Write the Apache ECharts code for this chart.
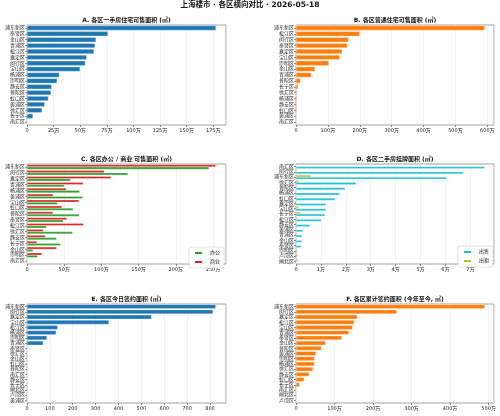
<!DOCTYPE html>
<html><head><meta charset="utf-8">
<script src="https://cdn.jsdelivr.net/npm/echarts@6/dist/echarts.min.js"></script>
<style>html,body{margin:0;padding:0;background:#fff}#c{width:500px;height:416px}</style>
</head><body><div id="c"></div>
<script>
// ---- data ----
const mainTitle = '上海楼市 · 各区横向对比 · 2026-05-18';
const titleA = 'A. 各区一手房住宅可售面积 (㎡)';
const catsA = ['浦东新区','奉贤区','金山区','青浦区','松江区','嘉定区','闵行区','宝山区','杨浦区','崇明区','静安区','普陀区','虹口区','黄浦区','徐汇区','长宁区','南汇区'];
const valsA = [177.5,76,64.8,63.9,62.9,56,54.8,49.8,30.4,28.2,23.2,22.5,20,16.6,14.1,5.6,0]; // 万㎡

const titleB = 'B. 各区普通住宅可售面积 (㎡)';
const catsB = ['浦东新区','松江区','闵行区','奉贤区','嘉定区','宝山区','崇明区','金山区','青浦区','普陀区','长宁区','徐汇区','杨浦区','静安区','虹口区','黄浦区','南汇区'];
const valsB = [591.7,200,164.6,160.4,144.8,137.5,103,59.4,48,13.5,6.3,3.1,3,2.5,2.5,0.5,0]; // 万㎡

const titleC = 'C. 各区办公 / 商业 可售面积 (㎡)';
const catsC = ['浦东新区','闵行区','嘉定区','青浦区','杨浦区','黄浦区','宝山区','虹口区','普陀区','奉贤区','松江区','徐汇区','静安区','长宁区','金山区','崇明区','南汇区'];
const officeC = [244.6,135.5,58.6,50,70.7,75,41,62,70.2,48.7,26,61.3,39.8,45.2,8,14.3,0]; // 万㎡
const shopC = [253.6,103.8,113,75.6,52.8,35.3,69.8,47,34.9,53.7,76,22,25,13.4,39.8,20,0];  // 万㎡
const legendC = ['办公','商业'];

const titleD = 'D. 各区二手房挂牌面积 (㎡)';
const catsD = ['南汇区','闵行区','浦东新区','徐汇区','普陀区','杨浦区','虹口区','嘉定区','宝山区','长宁区','松江区','静安区','黄浦区','青浦区','金山区','奉贤区','崇明区','卢湾区','闸北区'];
const saleD = [7.57,6.72,6.04,2.41,1.97,1.75,1.57,1.2,1.2,1.17,1.01,0.57,0.27,0.25,0.24,0.2,0.05,0.04,0]; // 万㎡
const rentD = [0.01,0.04,0.61,0.11,0.03,0.02,0.03,0.02,0.11,0.17,0.05,0.04,0.02,0.05,0.02,0.02,0.05,0.08,0.08];
const legendD = ['出售','出租'];

const titleE = 'E. 各区今日签约面积 (㎡)';
const catsE = ['浦东新区','闵行区','嘉定区','宝山区','松江区','杨浦区','崇明区','青浦区','奉贤区','徐汇区','金山区','虹口区','普陀区','南汇区','静安区','长宁区','闸北区','卢湾区','黄浦区'];
const valsE = [825,813,544,358,134,127,87,71,0,0,0,0,0,0,0,0,0,0,0]; // ㎡

const titleF = 'F. 各区累计签约面积 (今年至今, ㎡)';
const catsF = ['浦东新区','闵行区','嘉定区','松江区','宝山区','青浦区','奉贤区','金山区','普陀区','黄浦区','崇明区','杨浦区','徐汇区','静安区','虹口区','长宁区','南汇区','闸北区','卢湾区'];
const valsF = [490,262,159,151,147,137,119,77,66,52,48,47.5,44,34,21,9,0,0,0]; // 万㎡

// ---- chart ----
const FF = 'DejaVu Sans, Noto Sans CJK SC, sans-serif';
const C1 = '#1f77b4', C2 = '#ff7f0e', CG = '#2ca02c', CR = '#d62728', CC = '#17becf', CO = '#bcbd22';
const wan = v => v === 0 ? '0' : (v + '万');
const plain = v => String(v);

const lefts = [27, 296], widths = [199, 198];
const tops = [25, 164, 304], heights = [100, 100, 99];
const grids = [], xAxes = [], yAxes = [], titles = [];
const panels = [
  {t: titleA, cats: catsA, max: 187, iv: 25, fmt: wan},
  {t: titleB, cats: catsB, max: 621, iv: 100, fmt: wan},
  {t: titleC, cats: catsC, max: 267.5, iv: 50, fmt: wan},
  {t: titleD, cats: catsD, max: 7.95, iv: 1, fmt: wan},
  {t: titleE, cats: catsE, max: 870, iv: 100, fmt: plain},
  {t: titleF, cats: catsF, max: 514, iv: 100, fmt: wan}
];
const titleTops = [17, 156, 296];
titles.push({text: mainTitle, left: 'center', top: 1, padding: 0,
  textStyle: {fontFamily: FF, fontSize: 7.5, fontWeight: 'bold', color: '#111'}});
panels.forEach((p, i) => {
  const col = i % 2, row = Math.floor(i / 2);
  grids.push({left: lefts[col], top: tops[row], width: widths[col], height: heights[row],
    show: true, borderColor: '#8a8a8a', borderWidth: 0.8, backgroundColor: 'transparent', containLabel: false});
  titles.push({text: p.t, left: lefts[col] + widths[col] / 2, textAlign: 'center', top: titleTops[row], padding: 0,
    textStyle: {fontFamily: FF, fontSize: 6, fontWeight: 'bold', color: '#111'}});
  xAxes.push({type: 'value', gridIndex: i, min: 0, max: p.max, interval: p.iv,
    axisLine: {show: false},
    axisTick: {show: true, length: 2, lineStyle: {color: '#444', width: 0.6}},
    axisLabel: {fontFamily: FF, fontSize: 5, color: '#222', margin: 3, formatter: p.fmt, showMaxLabel: false},
    splitLine: {show: true, lineStyle: {color: '#e8e8e8', width: 0.6}}});
  yAxes.push({type: 'category', gridIndex: i, data: p.cats, inverse: true,
    axisLine: {show: false},
    axisTick: {show: true, length: 2, alignWithLabel: true, lineStyle: {color: '#444', width: 0.6}},
    axisLabel: {fontFamily: FF, fontSize: 5, color: '#222', margin: 2, interval: 0},
    splitLine: {show: false}});
});

const single = (i, data, color) => ({type: 'bar', xAxisIndex: i, yAxisIndex: i, data: data, barWidth: '80%',
  itemStyle: {color: color, borderColor: '#fff', borderWidth: 0.3}, silent: true, animation: false});
const grouped = (i, name, data, color) => ({type: 'bar', name: name, xAxisIndex: i, yAxisIndex: i, data: data,
  barCategoryGap: '20%', barGap: '0%', itemStyle: {color: color, borderColor: '#fff', borderWidth: 0.3}, silent: true, animation: false});

const series = [
  single(0, valsA, C1),
  single(1, valsB, C2),
  grouped(2, legendC[1], shopC, CR),
  grouped(2, legendC[0], officeC, CG),
  grouped(3, legendD[1], rentD, CO),
  grouped(3, legendD[0], saleD, CC),
  single(4, valsE, C1),
  single(5, valsF, C2)
];

const legendBase = {orient: 'vertical', itemWidth: 9, itemHeight: 4, itemGap: 3, padding: [3, 4, 3, 4],
  backgroundColor: 'rgba(255,255,255,0.85)', borderColor: '#cccccc', borderWidth: 0.6, borderRadius: 2,
  selectedMode: false, icon: 'rect', textStyle: {fontFamily: FF, fontSize: 5, color: '#222', padding: [0, 0, 0, 2]}};
const legends = [
  Object.assign({}, legendBase, {data: legendC, right: 276, top: 247, itemGap: 3}),
  Object.assign({}, legendBase, {data: legendD, right: 7, top: 246, itemGap: 3})
];

const chart = echarts.init(document.getElementById('c'), null, {renderer: 'canvas'});
chart.setOption({animation: false, backgroundColor: '#fff', title: titles, grid: grids,
  xAxis: xAxes, yAxis: yAxes, legend: legends, series: series});
</script></body></html>
